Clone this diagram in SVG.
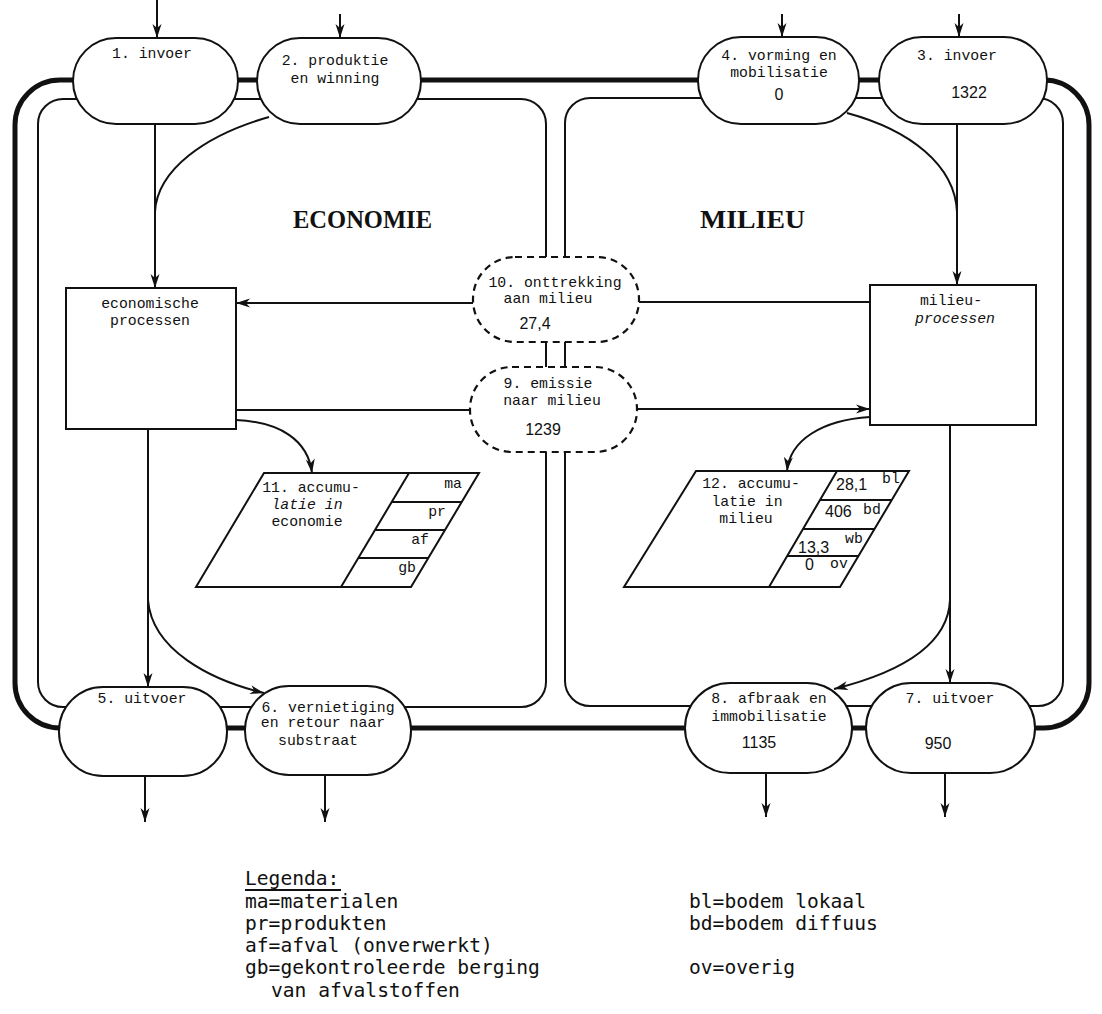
<svg xmlns="http://www.w3.org/2000/svg" width="1102" height="1014" viewBox="0 0 1102 1014">
<style>
.thick{fill:none;stroke:#111;stroke-width:5}
.thin{fill:none;stroke:#111;stroke-width:2}
.ln{fill:none;stroke:#111;stroke-width:2}
.arr{fill:none;stroke:#111;stroke-width:2;marker-end:url(#ah)}
.oval{fill:#fff;stroke:#111;stroke-width:2}
.dash{fill:#fff;stroke:#111;stroke-width:2.2;stroke-dasharray:7 5}
.box{fill:#fff;stroke:#111;stroke-width:2}
.t{font-family:"Liberation Mono","DejaVu Sans Mono",monospace;font-size:14.8px;fill:#111}
.n{font-family:"Liberation Sans",Arial,sans-serif;font-size:16px;fill:#111}
.c{text-anchor:middle}
.e{text-anchor:end}
.i{font-style:italic}
.title{font-family:"Liberation Serif","Times New Roman",serif;font-size:25px;font-weight:bold;fill:#111}
.leg{font-family:"DejaVu Sans Mono","Liberation Mono",monospace;font-size:19.6px;fill:#111}
</style>
<defs>
<marker id="ah" markerWidth="16" markerHeight="12" refX="15" refY="6" orient="auto" markerUnits="userSpaceOnUse">
<path d="M1,1.5 L15,6 L1,10.5 L5,6 Z" fill="#111"/>
</marker>
</defs>
<rect width="1102" height="1014" fill="#fff"/>
<g id="frames">
<rect x="15" y="80" width="1074" height="648" rx="45" class="thick"/>
<rect x="38" y="99" width="508" height="608" rx="25" class="thin"/>
<rect x="565" y="98" width="498" height="608" rx="25" class="thin"/>
</g>
<g id="connectors">
<line x1="157" y1="0" x2="157" y2="38" class="arr"/>
<line x1="340" y1="14" x2="340" y2="38" class="arr"/>
<line x1="782" y1="14" x2="782" y2="37" class="arr"/>
<line x1="959" y1="14" x2="959" y2="37" class="arr"/>
<line x1="155" y1="124" x2="155" y2="288" class="arr"/>
<path d="M269,117 C205,135 157,170 155,212" class="ln"/>
<line x1="957" y1="123" x2="957" y2="285" class="arr"/>
<path d="M847,113 C910,130 955,165 957,212" class="ln"/>
<line x1="473" y1="303" x2="236" y2="303" class="arr"/>
<line x1="870" y1="302" x2="639" y2="302" class="ln"/>
<line x1="236" y1="410" x2="470" y2="410" class="ln"/>
<line x1="637" y1="409" x2="870" y2="409" class="arr"/>
<path d="M236,420 C280,422 308,440 312,473" class="arr"/>
<path d="M870,417 C822,420 790,440 787,471" class="arr"/>
<line x1="148" y1="429" x2="148" y2="687" class="arr"/>
<path d="M148,600 C152,650 210,680 264,693" class="arr"/>
<line x1="950" y1="425" x2="950" y2="683" class="arr"/>
<path d="M950,600 C948,650 890,675 834,689" class="arr"/>
<line x1="145" y1="776" x2="145" y2="822" class="arr"/>
<line x1="325" y1="775" x2="325" y2="822" class="arr"/>
<line x1="766" y1="773" x2="766" y2="817" class="arr"/>
<line x1="945" y1="773" x2="945" y2="817" class="arr"/>
</g>
<g id="titles">
<text x="293" y="228" class="title" textLength="139" lengthAdjust="spacingAndGlyphs">ECONOMIE</text>
<text x="700" y="228" class="title" textLength="105" lengthAdjust="spacingAndGlyphs">MILIEU</text>
</g>
<g id="n1">
<rect x="73" y="38" width="165" height="86" rx="43" class="oval"/>
<text x="152" y="58" class="t c">1. invoer</text>
</g>
<g id="n2">
<rect x="257" y="38" width="164" height="86" rx="43" class="oval"/>
<text x="335" y="65" class="t c">2. produktie</text>
<text x="335" y="83" class="t c">en winning</text>
</g>
<g id="n4">
<rect x="698" y="37" width="161" height="87" rx="43" class="oval"/>
<text x="779" y="60" class="t c">4. vorming en</text>
<text x="779" y="77" class="t c">mobilisatie</text>
<text x="779" y="100" class="n c">0</text>
</g>
<g id="n3">
<rect x="879" y="37" width="168" height="87" rx="43" class="oval"/>
<text x="957" y="60" class="t c">3. invoer</text>
<text x="969" y="98" class="n c">1322</text>
</g>
<g id="econ">
<rect x="66" y="288" width="170" height="141" class="box"/>
<text x="150" y="308" class="t c">economische</text>
<text x="150" y="325" class="t c">processen</text>
</g>
<g id="milieu">
<rect x="870" y="285" width="166" height="140" class="box"/>
<text x="951" y="305" class="t c">milieu-</text>
<text x="955" y="323" class="t c i">processen</text>
</g>
<g id="n10">
<rect x="473" y="257" width="166" height="85" rx="42" class="dash"/>
<text x="555" y="287" class="t c">10. onttrekking</text>
<text x="548" y="303" class="t c">aan milieu</text>
<text x="535" y="329" class="n c">27,4</text>
</g>
<g id="n9">
<rect x="470" y="367" width="167" height="85" rx="42" class="dash"/>
<text x="548" y="388" class="t c">9. emissie</text>
<text x="552" y="405" class="t c">naar milieu</text>
<text x="543" y="435" class="n c">1239</text>
</g>
<g id="n11">
<path d="M264,473 L479,473 L411,587 L196,587 Z" class="box"/>
<path d="M409,473 L341,587 M391.7,502 L461.7,502 M375,530 L445,530 M358.3,558 L428.3,558" class="ln"/>
<text x="311" y="492" class="t c">11. accumu-</text>
<text x="307" y="509" class="t c i">latie in</text>
<text x="307" y="526" class="t c">economie</text>
<text x="462" y="488" class="t e">ma</text>
<text x="446" y="516" class="t e">pr</text>
<text x="429" y="544" class="t e">af</text>
<text x="416" y="572" class="t e">gb</text>
</g>
<g id="n12">
<path d="M696,471 L909,471 L840,587 L624,587 Z" class="box"/>
<path d="M837,471 L769,587 M819.7,500 L891.7,500 M802.5,529 L874.5,529 M786.4,556 L858.4,556" class="ln"/>
<text x="751" y="488" class="t c">12. accumu-</text>
<text x="747" y="506" class="t c">latie in</text>
<text x="746" y="523" class="t c">milieu</text>
<text x="836" y="490" class="n">28,1</text>
<text x="882" y="483" class="t">bl</text>
<text x="825" y="517" class="n">406</text>
<text x="863" y="514" class="t">bd</text>
<text x="845" y="543" class="t">wb</text>
<text x="798" y="553" class="n">13,3</text>
<text x="805" y="570" class="n">0</text>
<text x="830" y="568" class="t">ov</text>
</g>
<g id="n5">
<rect x="59" y="687" width="168" height="89" rx="44" class="oval"/>
<text x="142" y="703" class="t c">5. uitvoer</text>
</g>
<g id="n6">
<rect x="245" y="686" width="166" height="89" rx="44" class="oval"/>
<text x="328" y="712" class="t c">6. vernietiging</text>
<text x="323" y="727" class="t c">en retour naar</text>
<text x="318" y="745" class="t c">substraat</text>
</g>
<g id="n8">
<rect x="685" y="683" width="167" height="90" rx="45" class="oval"/>
<text x="769" y="703" class="t c">8. afbraak en</text>
<text x="769" y="721" class="t c">immobilisatie</text>
<text x="759" y="748" class="n c">1135</text>
</g>
<g id="n7">
<rect x="866" y="683" width="169" height="90" rx="45" class="oval"/>
<text x="950" y="703" class="t c">7. uitvoer</text>
<text x="938" y="749" class="n c">950</text>
</g>
<g id="legend">
<text x="245" y="885" class="leg">Legenda:</text>
<line x1="245" y1="890" x2="341" y2="890" class="ln"/>
<text x="245" y="908" class="leg">ma=materialen</text>
<text x="245" y="930" class="leg">pr=produkten</text>
<text x="245" y="952" class="leg">af=afval (onverwerkt)</text>
<text x="245" y="974" class="leg">gb=gekontroleerde berging</text>
<text x="271" y="997" class="leg">van afvalstoffen</text>
<text x="689" y="908" class="leg">bl=bodem lokaal</text>
<text x="689" y="930" class="leg">bd=bodem diffuus</text>
<text x="689" y="974" class="leg">ov=overig</text>
</g>
</svg>
